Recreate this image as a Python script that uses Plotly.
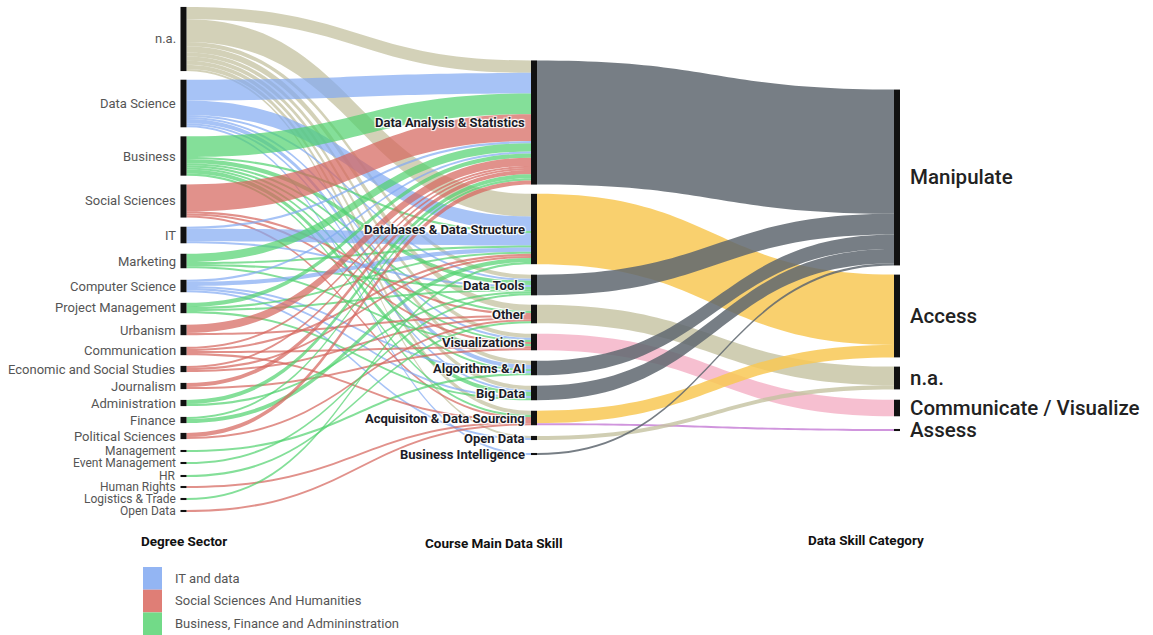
import plotly.graph_objects as go

W, H = 1153, 635
SANKEY_H = 520  # pixel height of the sankey area (top of page down)

# ---------------- data ----------------
sectors = ["n.a.", "Data Science", "Business", "Social Sciences", "IT", "Marketing",
           "Computer Science", "Project Management", "Urbanism", "Communication",
           "Economic and Social Studies", "Journalism", "Administration", "Finance",
           "Political Sciences", "Management", "Event Management", "HR",
           "Human Rights", "Logistics & Trade", "Open Data"]
sector_group = ["na", "IT", "BFA", "SSH", "IT", "BFA", "IT", "BFA", "SSH", "SSH",
                "SSH", "SSH", "BFA", "BFA", "SSH", "BFA", "BFA", "BFA", "SSH", "BFA", "SSH"]

skills = ["Data Analysis & Statistics", "Databases & Data Structure", "Data Tools",
          "Other", "Visualizations", "Algorithms & AI", "Big Data",
          "Acquisiton & Data Sourcing", "Open Data", "Business Intelligence"]

categories = ["Manipulate", "Access", "n.a.", "Communicate / Visualize", "Assess"]

# sector -> skill counts (columns follow `skills`)
sector_skill = [
    [6, 11, 2, 3, 2, 2, 2, 2, 1, 0],   # n.a.
    [10, 7, 1, 0, 1, 2, 1, 0, 0, 1],   # Data Science
    [10, 1, 2, 1, 1, 1, 2, 1, 0, 0],   # Business
    [13, 0, 0, 1, 1, 0, 0, 1, 0, 0],   # Social Sciences
    [1, 6, 1, 0, 0, 0, 0, 0, 0, 0],    # IT
    [4, 1, 1, 0, 1, 0, 0, 0, 0, 0],    # Marketing
    [1, 2, 0, 0, 0, 1, 1, 0, 1, 0],    # Computer Science
    [2, 1, 1, 0, 0, 0, 1, 0, 0, 0],    # Project Management
    [4, 0, 0, 1, 0, 0, 0, 0, 0, 0],    # Urbanism
    [1, 1, 0, 0, 1, 0, 0, 1, 0, 0],    # Communication
    [1, 1, 0, 1, 0, 0, 0, 0, 0, 0],    # Economic and Social Studies
    [2, 0, 0, 0, 1, 0, 0, 0, 0, 0],    # Journalism
    [2, 0, 1, 0, 0, 0, 0, 0, 0, 0],    # Administration
    [1, 2, 0, 0, 0, 0, 0, 0, 0, 0],    # Finance
    [2, 0, 0, 1, 0, 0, 0, 0, 0, 0],    # Political Sciences
    [0, 0, 0, 0, 0, 1, 0, 0, 0, 0],    # Management
    [0, 0, 1, 0, 0, 0, 0, 0, 0, 0],    # Event Management
    [0, 0, 0, 1, 0, 0, 0, 0, 0, 0],    # HR
    [0, 0, 0, 0, 0, 0, 0, 1, 0, 0],    # Human Rights
    [0, 1, 0, 0, 0, 0, 0, 0, 0, 0],    # Logistics & Trade
    [0, 0, 0, 0, 0, 0, 0, 1, 0, 0],    # Open Data
]

# skill -> category counts
skill_cat_src = ["Data Analysis & Statistics", "Databases & Data Structure", "Data Tools",
                 "Other", "Visualizations", "Algorithms & AI", "Big Data",
                 "Acquisiton & Data Sourcing", "Acquisiton & Data Sourcing",
                 "Open Data", "Business Intelligence"]
skill_cat_dst = ["Manipulate", "Access", "Manipulate", "n.a.", "Communicate / Visualize",
                 "Manipulate", "Manipulate", "Access", "Assess", "n.a.", "Manipulate"]
skill_cat_val = [60, 34, 10, 9, 8, 7, 7, 6, 1, 2, 1]

legend_labels = ["IT and data", "Social Sciences And Humanities",
                 "Business, Finance and Admininstration"]
column_titles = ["Degree Sector", "Course Main Data Skill", "Data Skill Category"]

# ---------------- layout (pixel positions of node centres) ----------------
col_x_px = [183.5, 534, 897]
sector_y_px = [39, 103.5, 156, 201, 235, 261, 286, 308, 330, 351, 369, 386, 403, 420,
               436, 451, 463, 476, 487, 499, 511]
skill_y_px = [122.5, 229, 285, 314, 342, 368, 393, 418, 438, 454]
cat_y_px = [177.5, 316, 378, 408, 430]

# ---------------- styles ----------------
group_link_color = {"na": "rgba(196,194,160,0.75)", "IT": "rgba(130,170,242,0.70)",
                    "SSH": "rgba(214,102,94,0.72)", "BFA": "rgba(80,210,110,0.70)"}
cat_link_color = {"Manipulate": "rgba(95,103,112,0.85)", "Access": "rgba(248,200,85,0.85)",
                  "n.a.": "rgba(196,194,160,0.8)", "Communicate / Visualize": "rgba(245,180,200,0.85)",
                  "Assess": "rgba(200,130,215,0.85)"}
legend_colors = ["#93b5f3", "#df7e76", "#72da88"]

# ---------------- build sankey ----------------
n_s, n_k = len(sectors), len(skills)
node_names = sectors + skills + categories
idx = {}
for i, s in enumerate(sectors):
    idx[("s", s)] = i
for j, k in enumerate(skills):
    idx[("k", k)] = n_s + j
for c_i, c in enumerate(categories):
    idx[("c", c)] = n_s + n_k + c_i

src, dst, val, col = [], [], [], []
for i, row in enumerate(sector_skill):
    for j, v in enumerate(row):
        if v > 0:
            src.append(i)
            dst.append(n_s + j)
            val.append(v)
            col.append(group_link_color[sector_group[i]])
for s, d, v in zip(skill_cat_src, skill_cat_dst, skill_cat_val):
    src.append(idx[("k", s)])
    dst.append(idx[("c", d)])
    val.append(v)
    col.append(cat_link_color[d])

node_x = ([col_x_px[0] / W] * n_s + [col_x_px[1] / W] * n_k +
          [col_x_px[2] / W] * len(categories))
node_y = [y / SANKEY_H for y in sector_y_px + skill_y_px + cat_y_px]

fig = go.Figure(go.Sankey(
    domain=dict(x=[0, 1], y=[1 - SANKEY_H / H, 1]),
    arrangement="fixed",
    hoverinfo="none",
    node=dict(label=[""] * len(node_names), x=node_x, y=node_y, pad=11,
              thickness=6, color="#111111", line=dict(width=0)),
    link=dict(source=src, target=dst, value=val, color=col),
))

ann = []
for k, (name, y) in enumerate(zip(sectors, sector_y_px)):
    fsize = 13 if k < 15 else 12
    ann.append(dict(x=(col_x_px[0] - 6) / W, y=1 - y / H, text=name, xanchor="right",
                    yanchor="middle", showarrow=False,
                    font=dict(family="Roboto", size=fsize, color="#555555")))
for name, y in zip(skills, skill_y_px):
    ann.append(dict(x=(col_x_px[1] - 7) / W, y=1 - y / H, text="<b>" + name + "</b>",
                    xanchor="right", yanchor="middle", showarrow=False,
                    font=dict(family="Roboto", size=13, color="#1c1c28",
                              shadow="1px 1px 1px #fff, -1px -1px 1px #fff, 1px -1px 1px #fff, -1px 1px 1px #fff")))
for name, y in zip(categories, cat_y_px):
    ann.append(dict(x=(col_x_px[2] + 11) / W, y=1 - y / H, text=name, xanchor="left",
                    yanchor="middle", showarrow=False,
                    font=dict(family="Roboto", size=20.5, color="#222222", weight=500)))

title_pos = [(184, 541), (493, 543), (866, 540)]
for t, (x, y) in zip(column_titles, title_pos):
    ann.append(dict(x=x / W, y=1 - y / H, text="<b>" + t + "</b>", xanchor="center",
                    yanchor="middle", showarrow=False,
                    font=dict(family="Roboto", size=13.5, color="#111111")))

shapes = []
leg_top = 567
for i, (lab, c) in enumerate(zip(legend_labels, legend_colors)):
    y0 = leg_top + i * 22.7
    shapes.append(dict(type="rect", xref="paper", yref="paper", x0=143 / W, x1=162 / W,
                       y0=1 - y0 / H, y1=1 - (y0 + 22.7) / H, fillcolor=c,
                       line=dict(width=0), layer="above"))
    ann.append(dict(x=173 / W, y=1 - (y0 + 11) / H, text=lab, xanchor="left",
                    yanchor="middle", showarrow=False,
                    font=dict(family="Roboto", size=13, color="#555555")))

fig.update_layout(width=W, height=H, margin=dict(l=0, r=0, t=0, b=0),
                  paper_bgcolor="white", plot_bgcolor="white",
                  annotations=ann, shapes=shapes, showlegend=False)

fig.write_html("out.html", config={"displayModeBar": False},
               post_script="document.body.style.margin='0px';document.body.style.overflow='hidden';")
